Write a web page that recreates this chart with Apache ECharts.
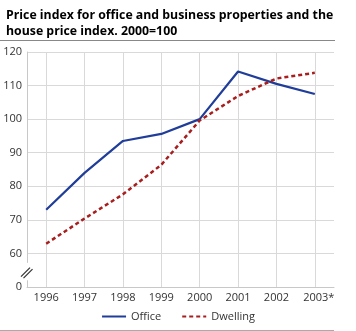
<!DOCTYPE html>
<html>
<head>
<meta charset="utf-8">
<script src="https://cdn.jsdelivr.net/npm/echarts@6/dist/echarts.min.js"></script>
<style>
  html, body { margin: 0; padding: 0; background: #fff; }
  #chart { width: 356px; height: 331px; }
</style>
</head>
<body>
<div id="chart"></div>
<script>
// Years on the category axis
const years = ['1996', '1997', '1998', '1999', '2000', '2001', '2002', '2003*'];
// Price index, office and business properties (2000=100)
const office = [73, 84, 93.5, 95.6, 100, 114.2, 110.5, 107.5];
// House price index (2000=100)
const dwelling = [62.9, 70.4, 77.6, 86.4, 99.6, 106.9, 112.1, 113.8];
// Value axis ticks; the lowest tick stands for 0 below the axis break
const yTicks = [50, 60, 70, 80, 90, 100, 110, 120];

const chart = echarts.init(document.getElementById('chart'), null, { renderer: 'canvas' });
const font = 'Open Sans, sans-serif';
const gridColor = '#d9d9d9';
const yMin = yTicks[0];
const yMax = yTicks[yTicks.length - 1];

// Plot area; a second grid inset by half a year band carries the
// vertical rules so that they pass through each year's point
const plot = { left: 27, right: 22, top: 52, bottom: 44 };
const plotWidth = 356 - plot.left - plot.right;
const halfBand = plotWidth / years.length / 2;

const option = {
  animation: false,
  textStyle: { fontFamily: font },
  title: {
    text: 'Price index for office and business properties and the\nhouse price index. 2000=100',
    left: 1,
    top: 2,
    textStyle: { fontFamily: font, fontSize: 12.3, fontWeight: 'bold', color: '#000', lineHeight: 16 }
  },
  grid: [
    { left: plot.left, right: plot.right, top: plot.top, bottom: plot.bottom },
    { left: plot.left + halfBand, right: plot.right + halfBand, top: plot.top, bottom: plot.bottom }
  ],
  legend: {
    bottom: 4,
    left: 'center',
    itemGap: 20,
    itemWidth: 24,
    itemHeight: 10,
    itemStyle: { opacity: 0 },
    textStyle: { fontFamily: font, fontSize: 11, color: '#333' },
    data: ['Office', 'Dwelling']
  },
  xAxis: [
    {
      type: 'category',
      gridIndex: 0,
      data: years,
      boundaryGap: true,
      z: 2,
      axisLine: { show: true, lineStyle: { color: '#c8c8c8' } },
      axisTick: { show: false },
      splitLine: { show: false },
      axisLabel: {
        color: '#333', fontSize: 11, margin: 5, fontFamily: font, interval: 0,
        formatter: v => (v.endsWith('*') ? '{s|' + v + '}' : v),
        rich: { s: { fontFamily: font, fontSize: 11, color: '#333', padding: [0, 0, 0, 8] } }
      }
    },
    {
      // year rules: one split line per year index
      type: 'value',
      gridIndex: 1,
      min: 0,
      max: years.length - 1,
      interval: 1,
      z: 0,
      axisLine: { show: false },
      axisTick: { show: false },
      axisLabel: { show: false },
      splitLine: { show: true, lineStyle: { color: gridColor, width: 1 } }
    }
  ],
  yAxis: [
    {
      type: 'value',
      gridIndex: 0,
      min: yMin,
      max: yMax,
      interval: 10,
      z: 2,
      axisLine: { show: true, lineStyle: { color: '#c8c8c8' } },
      axisTick: { show: false },
      splitLine: { show: true, lineStyle: { color: gridColor } },
      axisLabel: {
        color: '#333', fontSize: 11, margin: 5, fontFamily: font,
        formatter: v => (v === yMin ? '0' : String(v))
      }
    },
    {
      type: 'value',
      gridIndex: 1,
      min: yMin,
      max: yMax,
      interval: 10,
      axisLine: { show: false },
      axisTick: { show: false },
      axisLabel: { show: false },
      splitLine: { show: false }
    }
  ],
  series: [
    {
      name: 'Office',
      type: 'line',
      xAxisIndex: 0,
      yAxisIndex: 0,
      data: office,
      symbol: 'none',
      lineStyle: { color: '#1f3d99', width: 2.2 },
      itemStyle: { color: '#1f3d99' },
      z: 3
    },
    {
      name: 'Dwelling',
      type: 'line',
      xAxisIndex: 0,
      yAxisIndex: 0,
      data: dwelling,
      symbol: 'none',
      lineStyle: { color: '#a81e1e', width: 2.5, type: [4, 3] },
      itemStyle: { color: '#a81e1e' },
      z: 4
    }
  ]
};
chart.setOption(option);

// Rules under the title and along the bottom, plus the axis-break mark
function drawDecor() {
  const yTop = chart.convertToPixel({ yAxisIndex: 0 }, 57.2);
  const yBot = chart.convertToPixel({ yAxisIndex: 0 }, 52);
  const yMid = (yTop + yBot) / 2;
  chart.setOption({
    graphic: [
      { type: 'line', shape: { x1: 0, y1: 40.5, x2: 335, y2: 40.5 }, style: { stroke: '#888', lineWidth: 1 }, silent: true },
      { type: 'line', shape: { x1: 0, y1: 330.5, x2: 334, y2: 330.5 }, style: { stroke: '#aaa', lineWidth: 1 }, silent: true },
      { type: 'rect', shape: { x: 18, y: yTop, width: 16, height: yBot - yTop }, style: { fill: '#fff' }, silent: true, z: 100 },
      { type: 'line', shape: { x1: 21, y1: yMid + 5, x2: 30, y2: yMid - 4 }, style: { stroke: '#333', lineWidth: 1.2 }, silent: true, z: 101 },
      { type: 'line', shape: { x1: 23.5, y1: yMid + 6.5, x2: 32.5, y2: yMid - 2.5 }, style: { stroke: '#333', lineWidth: 1.2 }, silent: true, z: 101 }
    ]
  });
}
drawDecor();
</script>
</body>
</html>
